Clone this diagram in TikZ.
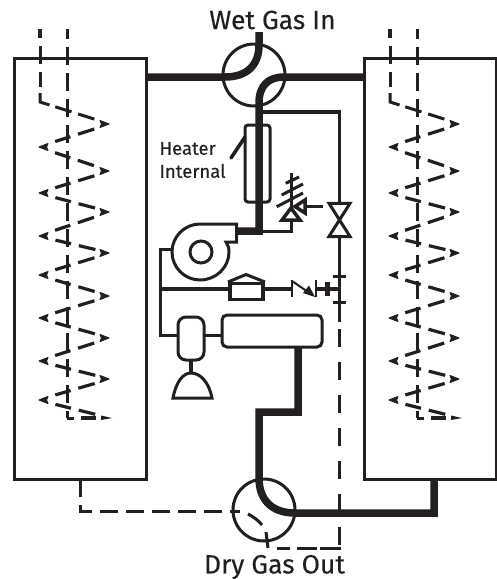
\documentclass[tikz,border=0pt]{standalone}
\usepackage{fontspec}
\setmainfont[FakeBold=0.25]{Fira Sans}
\definecolor{ink}{HTML}{231F20}
\tikzset{
	thinline/.style={draw=ink, line width=3pt},
	midline/.style={draw=ink, line width=4.5pt},
	pipe/.style={draw=ink, line width=7.5pt},
	dashline/.style={draw=ink, line width=3pt, dash pattern=on 18pt off 8pt},
	legline/.style={draw=ink, line width=3.2pt, dash pattern=on 0pt off 18pt on 16pt off 8pt on 17pt off 30pt},
	coiltip/.style={fill=ink, draw=ink, line width=1pt, line join=round},
	bedbox/.style={draw=ink, line width=3pt, minimum width=132pt, minimum height=421pt, outer sep=0pt, inner sep=0pt},
	valvebody/.style={draw=ink, line width=3pt, circle, minimum size=62pt, outer sep=0pt, inner sep=0pt},
	roundbox/.style={draw=ink, line width=3pt, rounded corners=#1, outer sep=0pt, inner sep=0pt},
	bigtext/.style={text=ink, font=\fontsize{26.5}{30}\selectfont},
	smalltext/.style={text=ink, font=\fontsize{18.5}{23}\selectfont, align=left}
}
\begin{document}
\begin{tikzpicture}[x=1pt, y=-1pt]

	\useasboundingbox (0,0) rectangle (497,579);

	\node[bigtext] (wetlabel) at (272.5,20) {Wet Gas In};
	\node[bigtext] (drylabel) at (274.5,567) {Dry Gas Out};
	\node[smalltext, anchor=west] (heatlabel) at (156,160) {Heater\\Internal};

	\node[bedbox] (leftbed) at (80,268.5) {};
	\node[bedbox] (rightbed) at (430.5,268.5) {};
	\node[valvebody] (wetvalve) at (254,75) {};
	\node[valvebody] (dryvalve) at (264,510) {};

	% coils
	\foreach \dx in {0,350} {
		\begin{scope}[xshift=\dx pt]
			\draw[dashline, dash phase=8pt] (67,29) -- (67,418);
			\draw[dashline, line width=4pt] (40,29) -- (40,38);
			\draw[dashline] (40,46) -- (40,87);
			\draw[dashline, dash pattern=on 19pt off 6pt on 17pt off 7pt on 17pt off 30pt] (40,93) -- (40,102) -- (110,124);
			\foreach \ly/\ry in {147/124,147/171,193/171,193/212,236/212,236/253,275/253,275/296,318/296,318/338,361/338,361/379,400/379,400/418} {
				\draw[legline] (38,\ly) -- (110,\ry);
			}
			\foreach \ly in {147,193,236,275,318,361,400} {
				\filldraw[coiltip] (39,\ly) -- (48,\ly-3.5) -- (46.5,\ly) -- (48,\ly+3.5) -- cycle;
			}
			\foreach \ry in {124,171,212,253,296,338,379} {
				\filldraw[coiltip] (109,\ry) -- (100,\ry-3.5) -- (101.5,\ry) -- (100,\ry+3.5) -- cycle;
			}
			\draw[draw=ink, line width=3pt] (67,418) -- (74,418);
			\draw[draw=ink, line width=4.5pt] (81,418) -- (96,418);
			\fill[ink] (112,418) -- (101,415.5) -- (101,420) -- cycle;
		\end{scope}
	}

	\node[roundbox=3pt, fill=white, minimum width=25pt, minimum height=77pt] (heater) at (257.5,163.5) {};
	\coordinate (heatend) at (231,158);
	\draw[thinline, line width=3.5pt, line cap=round] (heater.north west |- 0,137) -- (heatend);

	% pipes
	\draw[pipe] (leftbed.east |- 0,77) -- (225,77) .. controls (247,77) and (259,65) .. (259,45) -- (259,32);
	\draw[pipe] (rightbed.west |- 0,77) -- (284,77) .. controls (268,77) and (259,86) .. (259,103) -- (259,231) -- (236,231);
	\draw[pipe] (298,347) -- (298,412) -- (259,412) -- (259,478) .. controls (259,500) and (272,513) .. (295,513) -- (434,513) -- (434,479);

	% blower
	\draw[thinline, line join=miter, fill=white] (236.7,224) -- (200,224) .. controls (184.6,224) and (172,236.6) .. (172,252) .. controls (172,267.4) and (184.6,280) .. (200,280) .. controls (216,280) and (229,267.4) .. (229,252) .. controls (229,248) and (228,245) .. (226,242) -- (236.7,242) -- cycle;
	\node[draw=ink, line width=3pt, circle, minimum size=22pt, inner sep=0pt] (impeller) at (201,252) {};

	% relief valve
	\coordinate (springtop) at (291,173);
	\coordinate (relieftip) at (291,208);
	\draw[thinline] (springtop) -- (relieftip);
	\draw[thinline] (285.7,183.3) -- (299,177);
	\draw[thinline] (281.7,195) -- (303,184);
	\draw[thinline] (276.7,206.7) -- (303,193);
	\draw[thinline, line width=3.5pt, fill=white, line join=miter] (relieftip) -- (300,220) -- (282,220) -- cycle;
	\draw[thinline, line width=3.5pt, fill=white, line join=miter] (295,206.5) -- (305,200) -- (305,213) -- cycle;
	\coordinate (gatetop) at (339.5,203.3);
	\coordinate (gatebot) at (339.5,236.5);
	\draw[thinline, line width=3.5pt] (305,206.5) -- (323,206.5);
	\draw[thinline] (291,220) -- (291,231.5) -- (262,231.5);

	% gate valve
	\draw[thinline, line width=3.3pt] (259,112) -- (339.5,112) -- (gatetop);
	\draw[thinline, line join=miter] (329,203.3) -- (350,203.3) -- (329,236.5) -- (350,236.5) -- cycle;
	\draw[thinline, line width=3.3pt] (gatebot) -- (339.5,322);
	\draw[dashline, dash pattern=on 0pt off 7pt on 18pt off 8pt] (339.5,322) -- (339.5,548);
	\draw[dashline, dash pattern=on 21pt off 3pt on 20pt off 7pt on 13pt off 20pt] (341,548) -- (277,548);
	\draw[dashline] (268,548) -- (266,532);
	\draw[dashline] (262,525) .. controls (259,521) and (254,517) .. (246.7,513.3);
	\draw[dashline] (80,479) -- (80,511) -- (240,511);

	% check valve
	\node[draw=ink, line width=3.5pt, minimum width=33pt, minimum height=16pt, inner sep=0pt, outer sep=0pt] (regbox) at (246.5,291.3) {};
	\draw[thinline, line join=miter] (228,282) -- (246,274.5) -- (265,282);
	\draw[midline] (160,289) -- (regbox.west |- 0,289);
	\draw[midline] (regbox.east |- 0,289) -- (292,289);
	\draw[thinline, line width=2pt] (291.5,280) -- (291.5,297);
	\draw[thinline, line width=2pt] (316,280) -- (316,297);
	\draw[thinline, line width=2pt] (292,281) -- (308,292);
	\fill[ink] (315,297) -- (303,293) -- (309,285.5) -- cycle;
	\draw[midline, line width=4pt] (316,289) -- (339.5,289);
	\draw[midline] (327.5,282) -- (327.5,296);
	\draw[thinline] (332.5,276) -- (346,276);
	\draw[thinline] (332.5,302.5) -- (346,302.5);

	% separator
	\node[roundbox=8pt, fill=white, minimum width=26pt, minimum height=43pt] (sep) at (191,338.5) {};
	\node[roundbox=5pt, fill=white, minimum width=100pt, minimum height=32pt] (drum) at (272,331) {};
	\coordinate (tie) at (212,335);
	\draw[thinline] (sep.east |- tie) -- (drum.west |- tie);
	\draw[thinline] (172,249) -- (160,249) -- (160,335) -- (sep.west |- tie);
	\coordinate (dometop) at (191,373);
	\draw[midline] (sep.south) -- (dometop);
	\draw[thinline, line join=miter] (173,398) .. controls (176,382) and (183,373) .. (dometop) .. controls (200,373) and (209,382) .. (212,398) -- cycle;

\end{tikzpicture}
\end{document}
